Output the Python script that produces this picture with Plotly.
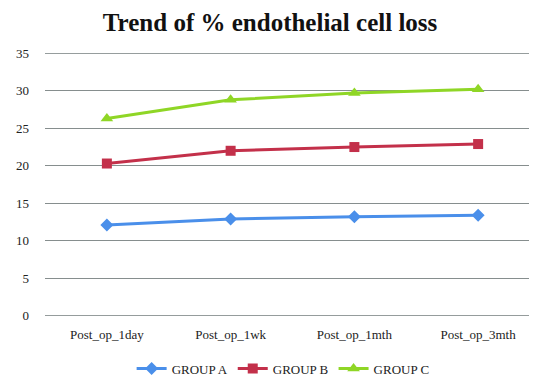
import plotly.graph_objects as go

categories = ["Post_op_1day", "Post_op_1wk", "Post_op_1mth", "Post_op_3mth"]
group_a = [12.1, 12.9, 13.2, 13.4]
group_b = [20.3, 22.0, 22.5, 22.9]
group_c = [26.3, 28.8, 29.7, 30.2]
y_ticks = [0, 5, 10, 15, 20, 25, 30, 35]

FONT = "Liberation Serif"
GRID = "#868E8E"

fig = go.Figure()
fig.add_trace(go.Scatter(x=categories, y=group_a, name="GROUP A", mode="lines+markers",
                         line=dict(color="#4A8FEA", width=3),
                         marker=dict(symbol="diamond", size=10, color="#4A8FEA")))
fig.add_trace(go.Scatter(x=categories, y=group_b, name="GROUP B", mode="lines+markers",
                         line=dict(color="#C3304A", width=3),
                         marker=dict(symbol="square", size=10, color="#C3304A")))
fig.add_trace(go.Scatter(x=categories, y=group_c, name="GROUP C", mode="lines+markers",
                         line=dict(color="#8FD626", width=3),
                         marker=dict(symbol="triangle-up", size=11, color="#8FD626")))

for yv in (y_ticks[0], y_ticks[-1]):
    fig.add_shape(type="line", xref="paper", x0=0, x1=1, yref="y", y0=yv, y1=yv,
                  line=dict(color=GRID, width=1), layer="below")

fig.update_layout(
    width=537, height=381,
    margin=dict(l=37, r=5, t=45, b=68),
    paper_bgcolor="white", plot_bgcolor="white",
    font=dict(family=FONT, size=13, color="#222222"),
    title=dict(text="<b>Trend of % endothelial cell loss</b>", x=0.488, xanchor="center",
               y=0.985, yanchor="top", font=dict(family=FONT, size=25, color="#111111")),
    xaxis=dict(type="category", range=[-0.5, 3.5], showgrid=False, showline=False,
               zeroline=False, ticks="", tickfont=dict(family=FONT, size=13),
               ticklabelstandoff=9),
    yaxis=dict(range=[-0.05, 35.05], tickvals=y_ticks, showgrid=True, gridcolor=GRID,
               gridwidth=1, zeroline=False, showline=False, ticks="",
               tickfont=dict(family=FONT, size=13), ticklabelstandoff=15),
    legend=dict(orientation="h", x=0.175, xanchor="left", y=-0.2, yanchor="middle",
                font=dict(family=FONT, size=13), itemwidth=30, tracegroupgap=0),
    showlegend=True,
)
fig.write_html("out.html")
